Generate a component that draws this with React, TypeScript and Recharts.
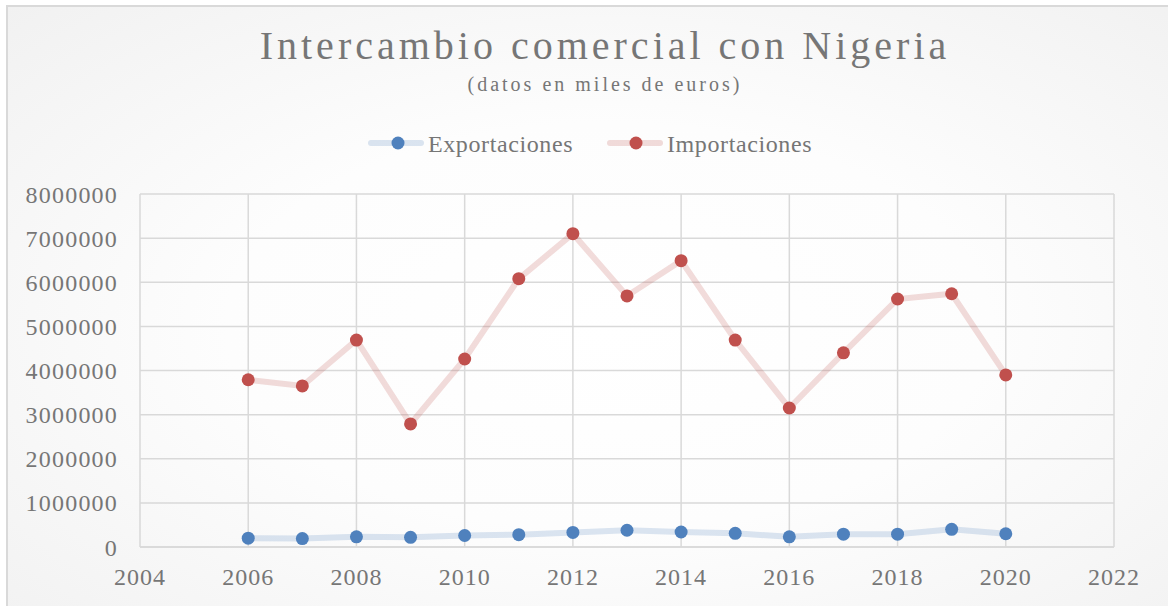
import React from 'react';
import { LineChart, Line, XAxis, YAxis, CartesianGrid } from 'recharts';

const years = [2006, 2007, 2008, 2009, 2010, 2011, 2012, 2013, 2014, 2015, 2016, 2017, 2018, 2019, 2020];
const exportaciones = [200000, 190000, 230000, 220000, 260000, 280000, 330000, 380000, 340000, 310000, 230000, 290000, 290000, 400000, 300000];
const importaciones = [3790000, 3650000, 4690000, 2790000, 4260000, 6080000, 7100000, 5690000, 6490000, 4690000, 3150000, 4400000, 5620000, 5740000, 3900000];
const xTicks = [2004, 2006, 2008, 2010, 2012, 2014, 2016, 2018, 2020, 2022];
const yTicks = [0, 1000000, 2000000, 3000000, 4000000, 5000000, 6000000, 7000000, 8000000];

const title = 'Intercambio comercial con Nigeria';
const subtitle = '(datos en miles de euros)';
const seriesNames = ['Exportaciones', 'Importaciones'];

const data = years.map((y, i) => ({ year: y, exp: exportaciones[i], imp: importaciones[i] }));

const FONT = '"Liberation Serif", "DejaVu Serif", serif';
const TEXT = '#767676';
const BLUE = '#4f81bd';
const RED = '#c0504d';

const Dot = (color: string) => (props: any) => {
  const { cx, cy } = props;
  if (cx == null || cy == null) return null;
  return <circle cx={cx} cy={cy} r={6.5} fill={color} stroke="none" />;
};

export default function App() {
  return (
    <div style={{ position: 'relative', width: 1168, height: 606, overflow: 'hidden', fontFamily: FONT }}>
      <style>{'body{margin:0;}'}</style>
      <div
        style={{
          position: 'absolute',
          left: 6,
          top: 5,
          width: 1200,
          height: 640,
          border: '2px solid #d9d9d9',
          background: 'radial-gradient(ellipse at 50% 50%, #ffffff 0%, #fdfdfd 45%, #f1f1f1 100%)',
        }}
      />
      <svg style={{ position: 'absolute', left: 0, top: 0 }} width={1168} height={606}>
        <text x={605} y={59} textAnchor="middle" fontFamily={FONT} fontSize={40} letterSpacing={4} fill={TEXT}>
          {title}
        </text>
        <text x={605} y={91} textAnchor="middle" fontFamily={FONT} fontSize={20} letterSpacing={3} fill={TEXT}>
          {subtitle}
        </text>
        {/* legend */}
        <line x1={371} y1={143} x2={421} y2={143} stroke={BLUE} strokeOpacity={0.2} strokeWidth={6} strokeLinecap="round" />
        <circle cx={398} cy={143} r={6.5} fill={BLUE} />
        <text x={428} y={152} fontFamily={FONT} fontSize={24} letterSpacing={0.6} fill={TEXT}>
          {seriesNames[0]}
        </text>
        <line x1={610} y1={143} x2={660} y2={143} stroke={RED} strokeOpacity={0.2} strokeWidth={6} strokeLinecap="round" />
        <circle cx={636} cy={143} r={6.5} fill={RED} />
        <text x={667} y={152} fontFamily={FONT} fontSize={24} letterSpacing={0.6} fill={TEXT}>
          {seriesNames[1]}
        </text>
      </svg>
      <div style={{ position: 'absolute', left: 0, top: 0 }}>
        <LineChart width={1168} height={606} data={data} margin={{ top: 194, right: 54, bottom: 9, left: 0 }}>
          <CartesianGrid stroke="#d9d9d9" strokeWidth={1.5} verticalPoints={undefined} />
          <XAxis
            dataKey="year"
            type="number"
            domain={[2004, 2022]}
            ticks={xTicks}
            height={50}
            axisLine={{ stroke: '#d9d9d9', strokeWidth: 1.5 }}
            tickLine={false}
            tickSize={0}
            tickMargin={21}
            interval={0}
            tick={{ fill: TEXT, fontSize: 24, fontFamily: FONT, letterSpacing: 1 }}
          />
          <YAxis
            type="number"
            domain={[0, 8000000]}
            ticks={yTicks}
            width={140}
            axisLine={false}
            tickLine={false}
            tickSize={0}
            tickMargin={22}
            interval={0}
            tick={{ fill: TEXT, fontSize: 24, fontFamily: FONT, letterSpacing: 1.2 }}
          />
          <Line
            dataKey="exp"
            name={seriesNames[0]}
            stroke={BLUE}
            strokeOpacity={0.2}
            strokeWidth={6}
            dot={Dot(BLUE)}
            activeDot={false}
            isAnimationActive={false}
          />
          <Line
            dataKey="imp"
            name={seriesNames[1]}
            stroke={RED}
            strokeOpacity={0.2}
            strokeWidth={6}
            dot={Dot(RED)}
            activeDot={false}
            isAnimationActive={false}
          />
        </LineChart>
      </div>
    </div>
  );
}
